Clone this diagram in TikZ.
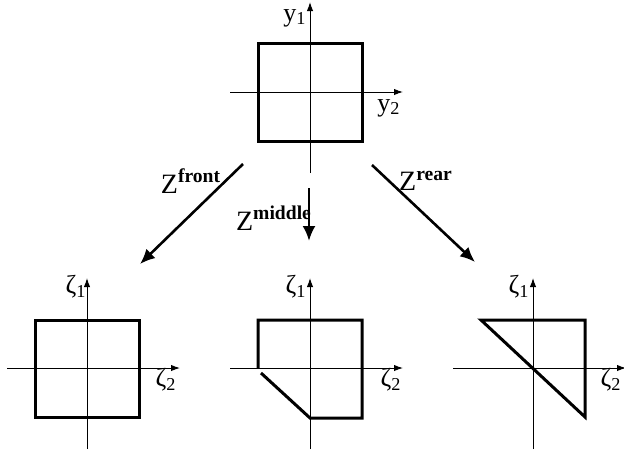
\documentclass[tikz,border=0pt]{standalone}
\usepackage{fontspec}
\setmainfont{Liberation Serif}
\usetikzlibrary{positioning,arrows.meta}

\begin{document}
\begin{tikzpicture}[
  x=0.5pt, y=-0.5pt,
  axis/.style={-{Latex[length=4.5pt,width=3.2pt]}, line width=0.5pt},
  region/.style={line width=1.5pt, line join=miter},
  map/.style={-{Latex[length=7.5pt,width=6.5pt]}, line width=1.3pt},
  lbl/.style={font=\fontsize{13}{15}\selectfont, inner sep=0pt},
  zlbl/.style={font=\fontsize{14}{16}\selectfont, inner sep=0pt}
]
\useasboundingbox (0,0) rectangle (624,455);

% axes of the four panels
\foreach \cx/\cy in {310/92, 87/368, 310/368, 533/368} {
  \draw[axis] (\cx-80,\cy) -- (\cx+93,\cy);
  \draw[axis] (\cx,\cy+81) -- (\cx,\cy-90);
}

% top panel
\draw[region] (258,43) rectangle (362,141);
\node[lbl] (y1) at (295,18) {y\textsubscript{1}};
\node[lbl] (y2) at (389,108) {y\textsubscript{2}};

% front
\draw[region] (35,320) rectangle (139,417);
\node[lbl] (f1) at (76,287) {ζ\textsubscript{1}};
\node[lbl] (f2) at (166,380) {ζ\textsubscript{2}};

% middle
\draw[region] (258,368) -- (258,320) -- (362,320) -- (362,418) -- (310,418) -- (261,373);
\node[lbl] (m1) at (296,287) {ζ\textsubscript{1}};
\node[lbl] (m2) at (391,380) {ζ\textsubscript{2}};

% rear
\draw[region] (481,320) -- (585,320) -- (585,417) -- cycle;
\node[lbl] (r1) at (519,287) {ζ\textsubscript{1}};
\node[lbl] (r2) at (611,380) {ζ\textsubscript{2}};

% maps
\coordinate (front-a) at (243,164);
\coordinate (front-b) at (140,264);
\coordinate (middle-a) at (309,188);
\coordinate (middle-b) at (309,241);
\coordinate (rear-a) at (372,165);
\coordinate (rear-b) at (475,262);
\draw[map] (front-a) -- (front-b);
\draw[map] (middle-a) -- (middle-b);
\draw[map] (rear-a) -- (rear-b);
\node[zlbl] (zfront) at (191,181) {Z\textsuperscript{\textbf{front}}};
\node[zlbl] (zmiddle) at (274,218) {Z\textsuperscript{\textbf{middle}}};
\node[zlbl] (zrear) at (426,181) {Z\textsuperscript{\textbf{rear}}};
\end{tikzpicture}
\end{document}
